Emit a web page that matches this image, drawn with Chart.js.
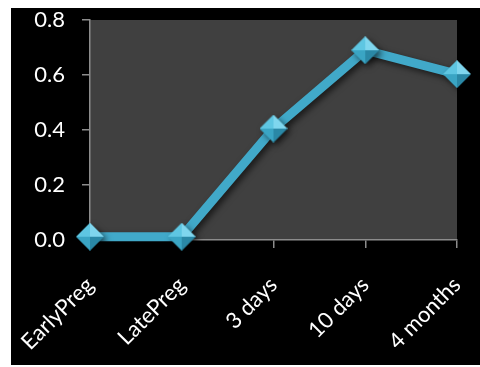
<!DOCTYPE html>
<html>
<head>
<meta charset="utf-8">
<script src="https://cdn.jsdelivr.net/npm/chart.js@4/dist/chart.umd.min.js"></script>
<style>
  html, body { margin: 0; padding: 0; background: #ffffff; }
  #wrap { position: absolute; left: 11px; top: 8px; width: 469px; height: 357px; background: #000000; overflow: hidden; }
  #chart { position: absolute; left: 0; top: -11px; }
</style>
</head>
<body>
<div id="wrap"><canvas id="chart" width="469" height="368"></canvas></div>
<script>
// Stages and measured values
const categories = ['EarlyPreg', 'LatePreg', '3 days', '10 days', '4 months'];
const values = [0.012, 0.012, 0.405, 0.69, 0.603];
const yTicks = [0.0, 0.2, 0.4, 0.6, 0.8];

const LINE_COLOR = '#41a9c9';
const AXIS_COLOR = '#8c8c8c';
const FONT = { family: 'Lato, "Open Sans", sans-serif', size: 22 };

// Faceted diamond marker (four shaded triangles meeting at the centre)
function makeDiamond(r) {
  const c = document.createElement('canvas');
  c.width = c.height = r * 2;
  const g = c.getContext('2d');
  const m = r;
  const faces = [
    { pts: [[m, 0], [0, m], [m, m]], col: '#5ec6e2' },      // top-left
    { pts: [[m, 0], [2 * m, m], [m, m]], col: '#7fd6ee' },  // top-right
    { pts: [[0, m], [m, 2 * m], [m, m]], col: '#3aa5c4' },  // bottom-left
    { pts: [[2 * m, m], [m, 2 * m], [m, m]], col: '#2a88a6' } // bottom-right
  ];
  faces.forEach(f => {
    g.beginPath();
    g.moveTo(f.pts[0][0], f.pts[0][1]);
    g.lineTo(f.pts[1][0], f.pts[1][1]);
    g.lineTo(f.pts[2][0], f.pts[2][1]);
    g.closePath();
    g.fillStyle = f.col;
    g.fill();
  });
  return c;
}
const diamond = makeDiamond(14);

const plotBackground = {
  id: 'plotBackground',
  beforeDraw(chart) {
    const { ctx, chartArea: a } = chart;
    ctx.save();
    ctx.fillStyle = '#404040';
    ctx.fillRect(a.left, a.top, a.right - a.left, a.bottom - a.top);
    ctx.restore();
  }
};

const seriesShadow = {
  id: 'seriesShadow',
  beforeDatasetsDraw(chart) {
    const ctx = chart.ctx;
    ctx.save();
    ctx.shadowColor = 'rgba(0,0,0,0.6)';
    ctx.shadowBlur = 6;
    ctx.shadowOffsetX = 3;
    ctx.shadowOffsetY = 3;
  },
  afterDatasetsDraw(chart) {
    chart.ctx.restore();
  }
};

new Chart(document.getElementById('chart'), {
  type: 'line',
  data: {
    labels: categories,
    datasets: [{
      data: values,
      borderColor: LINE_COLOR,
      borderWidth: 9,
      borderJoinStyle: 'round',
      tension: 0,
      fill: false,
      pointStyle: diamond,
      pointRadius: 14,
      clip: false
    }]
  },
  options: {
    responsive: false,
    animation: false,
    events: [],
    layout: { padding: { top: 1, right: 14, left: 0, bottom: 0 } },
    plugins: { legend: { display: false }, tooltip: { enabled: false } },
    scales: {
      x: {
        offset: false,
        grid: { display: true, drawOnChartArea: false, drawTicks: true, tickLength: 8, color: AXIS_COLOR, lineWidth: 1.5 },
        border: { display: true, color: AXIS_COLOR, width: 1.5 },
        ticks: { color: '#ffffff', font: FONT, maxRotation: 45, minRotation: 45, padding: 24, autoSkip: false },
        afterFit(scale) {
          scale.height = 125;
          scale.paddingLeft = 0; scale.paddingRight = 0;
          scale.paddingTop = 0; scale.paddingBottom = 0;
        }
      },
      y: {
        min: 0,
        max: 0.8,
        afterBuildTicks(scale) { scale.ticks = yTicks.map(v => ({ value: v })); },
        grid: { display: true, drawOnChartArea: false, drawTicks: true, tickLength: 8, color: AXIS_COLOR, lineWidth: 1.5 },
        border: { display: true, color: AXIS_COLOR, width: 1.5 },
        ticks: { color: '#ffffff', font: FONT, padding: 17, callback: v => Number(v).toFixed(1) },
        afterFit(scale) {
          scale.width = 79;
          scale.paddingTop = 0; scale.paddingBottom = 0;
          scale.paddingLeft = 0; scale.paddingRight = 0;
        }
      }
    }
  },
  plugins: [plotBackground, seriesShadow]
});
</script>
</body>
</html>
